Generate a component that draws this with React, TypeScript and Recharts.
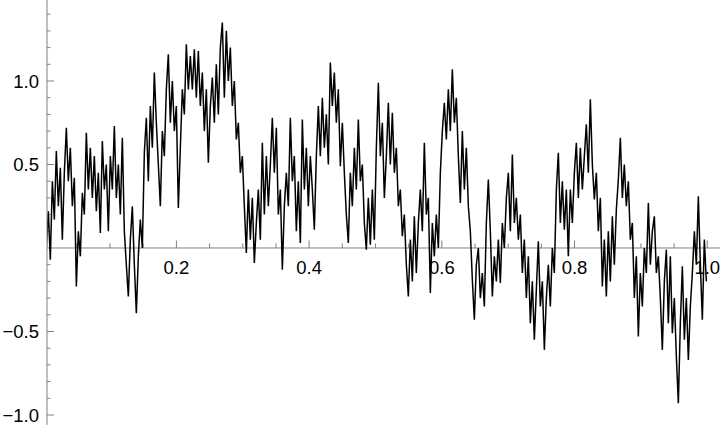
import React from 'react';
import { LineChart, Line, XAxis, YAxis, ReferenceLine } from 'recharts';

const X_START = 0.004;
const X_STEP = 0.003014;

const values = [
  0.00, 0.22, -0.07, 0.40, 0.17, 0.58, 0.25, 0.48, 0.05, 0.45,
  0.72, 0.40, 0.60, 0.25, 0.42, -0.23, 0.10, -0.05, 0.33, 0.20,
  0.69, 0.35, 0.60, 0.30, 0.55, 0.22, 0.45, 0.09, 0.64, 0.35,
  0.50, 0.10, 0.55, 0.35, 0.73, 0.30, 0.50, 0.20, 0.66, 0.10,
  -0.10, -0.29, 0.05, 0.25, -0.10, -0.39, -0.05, 0.17, 0.00, 0.57,
  0.78, 0.40, 0.85, 0.60, 1.05, 0.75, 0.50, 0.25, 0.70, 0.55,
  0.95, 1.16, 0.75, 1.00, 0.70, 0.85, 0.24, 0.60, 0.95, 0.80,
  1.22, 0.95, 1.15, 0.95, 1.19, 0.90, 1.18, 0.85, 1.05, 0.70,
  0.95, 0.51, 0.85, 1.02, 0.75, 1.10, 0.80, 1.20, 1.35, 0.90,
  1.30, 1.00, 1.20, 0.85, 1.00, 0.65, 0.75, 0.45, 0.55, 0.25,
  -0.03, 0.35, 0.05, 0.30, -0.09, 0.15, 0.35, 0.05, 0.63, 0.20,
  0.55, 0.25, 0.50, 0.78, 0.45, 0.72, 0.20, 0.35, -0.13, 0.25,
  0.45, 0.25, 0.78, 0.40, 0.55, 0.10, 0.40, 0.03, 0.77, 0.35,
  0.60, 0.25, 0.55, 0.35, 0.11, 0.55, 0.85, 0.55, 0.90, 0.60,
  0.80, 0.50, 1.11, 0.85, 1.05, 0.75, 0.95, 0.49, 0.75, 0.45,
  0.20, 0.03, 0.45, 0.25, 0.60, 0.35, 0.77, 0.40, 0.50, 0.15,
  -0.01, 0.30, 0.02, 0.35, 0.05, 0.60, 0.99, 0.55, 0.75, 0.30,
  0.55, 0.87, 0.50, 0.81, 0.45, 0.60, 0.25, 0.35, 0.07, 0.20,
  -0.10, -0.29, 0.05, -0.20, 0.19, -0.15, 0.15, 0.35, 0.10, 0.63,
  0.20, 0.30, -0.27, 0.15, -0.05, 0.20, 0.00, 0.45, 0.70, 0.87,
  0.65, 0.95, 0.70, 1.07, 0.75, 0.90, 0.55, 0.27, 0.70, 0.35,
  0.60, 0.25, 0.10, -0.19, -0.43, -0.10, 0.00, -0.30, -0.15, -0.35,
  0.15, 0.41, 0.10, -0.29, -0.05, -0.20, 0.05, -0.21, 0.15, 0.00,
  0.30, 0.45, 0.10, 0.56, 0.15, 0.30, 0.05, 0.20, -0.15, 0.05,
  -0.30, -0.05, -0.45, -0.20, -0.55, -0.25, 0.04, -0.35, -0.20, -0.61,
  -0.30, -0.10, -0.35, 0.00, -0.15, 0.35, 0.57, 0.15, 0.40, 0.11,
  0.35, -0.05, 0.35, 0.15, 0.45, 0.63, 0.30, 0.60, 0.35, 0.55,
  0.74, 0.45, 0.89, 0.50, 0.29, 0.45, 0.10, 0.30, -0.23, 0.05,
  -0.29, 0.10, -0.20, 0.19, -0.10, 0.23, 0.41, 0.66, 0.30, 0.50,
  0.25, 0.40, 0.05, 0.15, -0.30, -0.05, -0.53, -0.15, -0.35, 0.00,
  -0.15, 0.27, -0.10, 0.10, 0.19, -0.15, -0.05, -0.30, -0.61, -0.20,
  -0.01, -0.45, -0.05, -0.51, -0.30, -0.65, -0.93, -0.45, -0.11, -0.55,
  -0.30, -0.67, -0.35, -0.15, 0.10, -0.10, 0.31, -0.10, -0.43, 0.05, -0.20,
];

const xMajorTicks = [0.2, 0.4, 0.6, 0.8, 1.0];
const xTickLabels = ['0.2', '0.4', '0.6', '0.8', '1.0'];
const xMinorTicks = [0.05, 0.1, 0.15, 0.25, 0.3, 0.35, 0.45, 0.5, 0.55, 0.65, 0.7, 0.75, 0.85, 0.9, 0.95];
const yMajorTicks = [-1.0, -0.5, 0.5, 1.0];
const yTickLabels = ['\u22121.0', '\u22120.5', '0.5', '1.0'];
const yMinorTicks = [-0.9, -0.8, -0.7, -0.6, -0.4, -0.3, -0.2, -0.1, 0.1, 0.2, 0.3, 0.4, 0.6, 0.7, 0.8, 0.9, 1.1, 1.2, 1.3, 1.4];

const X_DOMAIN: [number, number] = [0.005, 1.0192];
const Y_DOMAIN: [number, number] = [-1.06, 1.485];

const AXIS_COLOR = '#808080';
const FONT = 'Liberation Sans, Arial, sans-serif';
const FONT_SIZE = 18.5;

const data = values.map((y, i) => ({ x: X_START + i * X_STEP, y }));

// tick lengths in data units
const X_MAJOR_LEN = 0.045;
const X_MINOR_LEN = 0.027;
const Y_MAJOR_LEN = 0.0105;
const Y_MINOR_LEN = 0.0052;

export default function App() {
  const x0 = X_DOMAIN[0];
  return (
    <div style={{ position: 'absolute', left: 0, top: 0, width: 720, height: 432, background: '#fff' }}>
      <LineChart width={720} height={432} data={data} margin={{ top: 0, right: 0, bottom: 7, left: 0 }}>
        <XAxis type="number" dataKey="x" domain={X_DOMAIN} allowDataOverflow hide />
        <YAxis
          type="number"
          domain={Y_DOMAIN}
          allowDataOverflow
          width={47}
          ticks={yMajorTicks}
          tickFormatter={(v: number) => yTickLabels[yMajorTicks.indexOf(v)] ?? String(v)}
          axisLine={{ stroke: AXIS_COLOR }}
          tickLine={false}
          tickSize={0}
          tickMargin={8}
          tick={{ fill: '#000', fontSize: FONT_SIZE, fontFamily: FONT }}
        />
        <ReferenceLine y={0} stroke={AXIS_COLOR} ifOverflow="visible" />
        {xMinorTicks.map((t) => (
          <ReferenceLine
            key={'xm' + t}
            segment={[{ x: t, y: 0 }, { x: t, y: X_MINOR_LEN }]}
            stroke={AXIS_COLOR}
            ifOverflow="visible"
          />
        ))}
        {xMajorTicks.map((t, i) => (
          <ReferenceLine
            key={'xM' + t}
            segment={[{ x: t, y: 0 }, { x: t, y: X_MAJOR_LEN }]}
            stroke={AXIS_COLOR}
            ifOverflow="visible"
            label={{ value: xTickLabels[i], position: 'bottom', offset: 13, fill: '#000', fontSize: FONT_SIZE, fontFamily: FONT }}
          />
        ))}
        {yMinorTicks.map((t) => (
          <ReferenceLine
            key={'ym' + t}
            segment={[{ x: x0, y: t }, { x: x0 + Y_MINOR_LEN, y: t }]}
            stroke={AXIS_COLOR}
            ifOverflow="visible"
          />
        ))}
        {yMajorTicks.map((t) => (
          <ReferenceLine
            key={'yM' + t}
            segment={[{ x: x0, y: t }, { x: x0 + Y_MAJOR_LEN, y: t }]}
            stroke={AXIS_COLOR}
            ifOverflow="visible"
          />
        ))}
        <Line
          type="linear"
          dataKey="y"
          stroke="#000"
          strokeWidth={1.5}
          strokeLinejoin="miter"
          strokeMiterlimit={3}
          dot={false}
          isAnimationActive={false}
        />
      </LineChart>
    </div>
  );
}
